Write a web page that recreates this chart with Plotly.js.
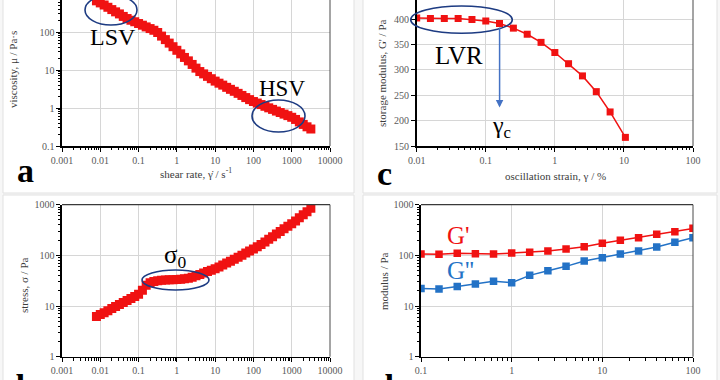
<!DOCTYPE html>
<html>
<head>
<meta charset="utf-8">
<script src="https://cdn.plot.ly/plotly-3.0.1.min.js"></script>
<style>html,body{margin:0;padding:0;background:#f7f7f7;}#chart{width:720px;height:380px;}</style>
</head>
<body>
<div id="chart"></div>
<script>
// ---- Data ----
// panels a & b: shear-rate sweep (1/s)
const shearRate = [0.00794,0.01,0.0126,0.0158,0.02,0.0251,0.0316,0.0398,0.0501,0.0631,0.0794,
  0.1,0.126,0.158,0.2,0.251,0.316,0.398,0.501,0.631,0.794,
  1,1.26,1.58,2,2.51,3.16,3.98,5.01,6.31,7.94,
  10,12.6,15.8,20,25.1,31.6,39.8,50.1,63.1,79.4,
  100,126,158,200,251,316,398,501,631,794,
  1000,1260,1580,2000,2510,3160];
// panel a: viscosity (Pa·s)
const viscosity = [661,583,513,447,389,339,299,257,226,204,186,
  167,151,136,123,111,97,78,63,51,41,
  33,26.6,21.4,17.4,14,11.2,9.1,7.9,6.8,5.9,
  5.1,4.5,4.0,3.5,3.1,2.75,2.43,2.14,1.88,1.66,
  1.48,1.35,1.23,1.11,1.01,0.92,0.83,0.76,0.69,0.63,
  0.57,0.50,0.43,0.37,0.32,0.28];
// panel b: stress (Pa)
const stress = [6.2,6.8,7.4,8.1,8.9,9.8,10.7,11.7,12.9,14.1,15.5,
  17,20.4,25.7,28.8,30.5,31.6,32.4,32.7,33.1,33.1,
  33.5,33.9,34.7,35.5,37.2,39.4,41.7,44.7,47.9,50.7,
  54.3,58.9,64.6,70.8,76.7,84.1,92.3,101,111,122,
  133,148,164,184,207,232,263,295,335,376,
  422,479,550,631,724,851];
// panel c: amplitude sweep
const strain = [0.01,0.0158,0.0251,0.0398,0.0631,0.1,0.158,0.251,0.398,0.631,1,1.58,2.51,3.98,6.31,10.5];
const storageModulus = [402,401,401,401,399,396,391,382,370,354,334,312,288,257,217,167];
// panel d: frequency sweep
const frequency = [0.1,0.158,0.251,0.398,0.631,1,1.58,2.51,3.98,6.31,10,15.8,25.1,39.8,63.1,100];
const gPrime = [106,104.7,109.7,107.9,106,111,114.6,122,133,148,173,198,223,260,293,341];
const gDouble = [22.3,21.7,24.4,27.2,30.7,28.9,40.3,49.8,60.7,77.3,90,106,122,146,181,223];
// tick labels
const logTicksAB = [0.001,0.01,0.1,1,10,100,1000,10000];
const logTicksC = [0.01,0.1,1,10,100];
const logTicksD = [0.1,1,10,100];
const yTicksA = [0.1,1,10,100];
const yTicksBD = [1,10,100,1000];
const yTicksC = [150,200,250,300,350,400];

// ---- helpers ----
const W = 720, H = 380;
const X = p => p / W;
const Y = p => 1 - p / H;
function minorLog(lo, hi) { const v = []; for (let d = lo; d < hi; d++) for (let k = 2; k <= 9; k++) v.push(k * Math.pow(10, d)); return v; }
const serif = 'Liberation Serif, Times New Roman, serif';
const red = '#f01212', blue = '#2372c6', navy = '#1d3b82';

function axis(extra) {
  return Object.assign({
    showline: true, linecolor: '#000', linewidth: 1.6,
    ticks: 'outside', ticklen: 4, tickwidth: 1, tickcolor: '#000',
    showgrid: true, gridcolor: '#d6d6d6', gridwidth: 1, zeroline: false,
    tickfont: {family: serif, size: 10, color: '#5a5a5a'},
    fixedrange: true, tickmode: 'array'
  }, extra);
}
function logAxis(domain, range, vals, lo, hi, anchor) {
  return axis({type: 'log', domain, range, anchor, tickvals: vals, ticktext: vals.map(String),
    minor: {tickmode: 'array', tickvals: minorLog(lo, hi), ticks: 'outside', ticklen: 2.5, tickcolor: '#000', showgrid: false}});
}

const traces = [
  {x: shearRate, y: viscosity, xaxis: 'x', yaxis: 'y', mode: 'markers', type: 'scatter',
   marker: {symbol: 'square', size: 9, color: red}},
  {x: strain, y: storageModulus, xaxis: 'x2', yaxis: 'y2', mode: 'lines+markers', type: 'scatter',
   line: {color: red, width: 1.5}, marker: {symbol: 'square', size: 7, color: red}},
  {x: shearRate, y: stress, xaxis: 'x3', yaxis: 'y3', mode: 'markers', type: 'scatter',
   marker: {symbol: 'square', size: 9, color: red}},
  {x: frequency, y: gPrime, xaxis: 'x4', yaxis: 'y4', mode: 'lines+markers', type: 'scatter',
   line: {color: red, width: 1.5}, marker: {symbol: 'square', size: 7.5, color: red}},
  {x: frequency, y: gDouble, xaxis: 'x4', yaxis: 'y4', mode: 'lines+markers', type: 'scatter',
   line: {color: blue, width: 1.5}, marker: {symbol: 'square', size: 7.5, color: blue}}
];

function card(x0, x1, y0, y1) {
  return {type: 'rect', xref: 'paper', yref: 'paper', x0: X(x0), x1: X(x1), y0: Y(y1), y1: Y(y0),
    fillcolor: '#ffffff', line: {color: '#e1e1e1', width: 1}, layer: 'below'};
}
function ell(x0, x1, y0, y1) {
  return {type: 'circle', xref: 'paper', yref: 'paper', x0: X(x0), x1: X(x1), y0: Y(y1), y1: Y(y0),
    line: {color: navy, width: 1.6}};
}
function frame(xa, ya, top) {
  const s = [{type: 'line', xref: xa + ' domain', yref: ya + ' domain', x0: 1, x1: 1, y0: 0, y1: 1, line: {color: '#4a4a4a', width: 1}}];
  if (top) s.push({type: 'line', xref: xa + ' domain', yref: ya + ' domain', x0: 0, x1: 1, y0: 1, y1: 1, line: {color: '#3a3a3a', width: 1.2}});
  return s;
}
function txt(text, x, y, size, color, extra) {
  return Object.assign({text, xref: 'paper', yref: 'paper', x: X(x), y: Y(y), xanchor: 'center', yanchor: 'middle',
    showarrow: false, font: {family: serif, size, color}}, extra || {});
}

const layout = {
  width: W, height: H, autosize: false, margin: {l: 0, r: 0, t: 0, b: 0},
  paper_bgcolor: '#f7f7f7', plot_bgcolor: 'rgba(0,0,0,0)', showlegend: false,
  xaxis: logAxis([62 / W, 330 / W], [-3, 4], logTicksAB, -3, 4, 'y'),
  yaxis: logAxis([Y(146), 1], [-1, 2.842], yTicksA, -1, 3, 'x'),
  xaxis2: logAxis([416.7 / W, 693 / W], [-2, 2], logTicksC, -2, 2, 'y2'),
  yaxis2: axis({domain: [Y(146), 1], range: [150, 437.4], anchor: 'x2', tickvals: yTicksC, ticktext: yTicksC.map(String)}),
  xaxis3: logAxis([62 / W, 330 / W], [-3, 4], logTicksAB, -3, 4, 'y3'),
  yaxis3: logAxis([Y(356.7), Y(204.7)], [0, 3], yTicksBD, 0, 3, 'x3'),
  xaxis4: logAxis([421 / W, 693 / W], [-1, 2], logTicksD, -1, 2, 'y4'),
  yaxis4: logAxis([Y(356.7), Y(204.7)], [0, 3], yTicksBD, 0, 3, 'x4'),
  shapes: [
    card(3, 354, -5, 193), card(363, 717, -5, 193), card(3, 354, 195, 390), card(363, 717, 195, 390),
    ...frame('x', 'y', false), ...frame('x2', 'y2', false), ...frame('x3', 'y3', true), ...frame('x4', 'y4', true),
    ell(85, 137, -5, 25), ell(252, 305, 100, 132), ell(142, 209, 270, 290), ell(410.7, 512.3, 6, 33.3)
  ],
  annotations: [
    txt('LSV', 113, 37, 24, '#000'),
    txt('HSV', 282, 88, 23, '#000'),
    txt('σ<sub>0</sub>', 175, 256, 25, '#000'),
    txt('LVR', 459, 55, 25, '#000'),
    txt('γ<sub>c</sub>', 501, 127, 24, '#000'),
    txt("G'", 458, 235, 25, red),
    txt("G''", 461, 270, 25, blue),
    txt('a', 25, 171, 34, '#000', {font: {family: serif, size: 34, color: '#000', weight: 'bold'}}),
    txt('c', 384, 173, 34, '#000', {font: {family: serif, size: 34, color: '#000', weight: 'bold'}}),
    txt('b', 25, 386, 34, '#000', {font: {family: serif, size: 34, color: '#000', weight: 'bold'}}),
    txt('d', 384, 386, 34, '#000', {font: {family: serif, size: 34, color: '#000', weight: 'bold'}}),
    txt('shear rate, γ̇ / s<sup>-1</sup>', 196, 173, 11, '#3c3c3c'),
    txt('viscosity, μ / Pa·s', 13, 70, 11, '#3c3c3c', {textangle: -90}),
    txt('oscillation strain, γ / %', 555, 176, 11, '#3c3c3c'),
    txt("storage modulus, G' / Pa", 382, 73, 11, '#3c3c3c', {textangle: -90}),
    txt('stress, σ / Pa', 24, 285, 11, '#3c3c3c', {textangle: -90}),
    txt('modulus / Pa', 384, 281, 11, '#3c3c3c', {textangle: -90}),
    {xref: 'x2', yref: 'y2', axref: 'x2', ayref: 'y2', x: -0.8, y: 226, ax: -0.8, ay: 386, text: '',
     showarrow: true, arrowhead: 2, arrowsize: 1, arrowwidth: 1.5, arrowcolor: '#4472c4'}
  ]
};

Plotly.newPlot('chart', traces, layout, {displayModeBar: false, staticPlot: true});
</script>
</body>
</html>
